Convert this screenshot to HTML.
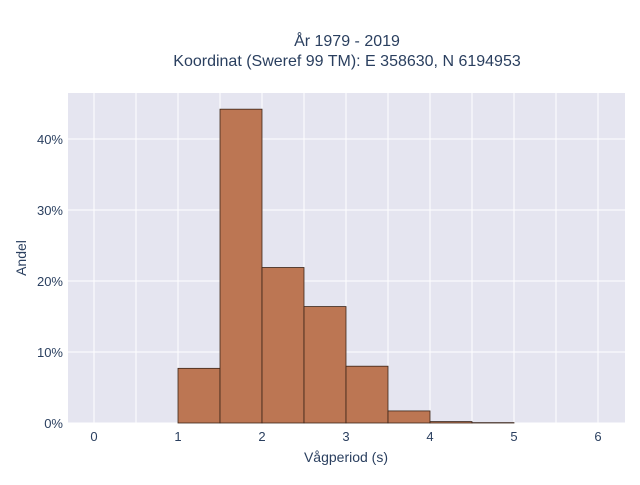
<!DOCTYPE html>
<html><head><meta charset="utf-8"><style>
body{margin:0;background:#fff;font-family:"Liberation Sans",sans-serif}
</style></head><body>
<svg id="c" width="640" height="480" xmlns="http://www.w3.org/2000/svg">
<rect x="0" y="0" width="640" height="480" fill="#fff"/>
<text x="347" y="46" text-anchor="middle" font-size="16" fill="#2a3f5f">År 1979 - 2019</text>
<text x="347" y="66" text-anchor="middle" font-size="16" fill="#2a3f5f">Koordinat (Sweref 99 TM): E 358630, N 6194953</text>
<rect x="68" y="93" width="557" height="330" fill="#e5e5f0"/>
<g id="grid"></g><g id="bars"></g><g id="ticks"></g>
<text x="346" y="462" text-anchor="middle" font-size="14" fill="#2a3f5f">Vågperiod (s)</text>
<text x="0" y="0" transform="translate(26,258) rotate(-90)" text-anchor="middle" font-size="14" fill="#2a3f5f">Andel</text>
</svg>
<script>
const binStarts=[1,1.5,2,2.5,3,3.5,4,4.5];
const binWidth=0.5;
const shares=[7.7,44.2,21.9,16.4,8.0,1.7,0.2,0.05];
const xTicks=[0,1,2,3,4,5,6];
const yTicks=[0,10,20,30,40];
const NS="http://www.w3.org/2000/svg";
const X=v=>94+v*84, Y=v=>423-v*7.1;
function mk(t,a,p){const e=document.createElementNS(NS,t);for(const k in a)e.setAttribute(k,a[k]);p.appendChild(e);return e;}
const g=document.getElementById('grid'),b=document.getElementById('bars'),t=document.getElementById('ticks');
for(let v=0;v<=6;v+=0.5){const l=mk('line',{x1:X(v),x2:X(v),y1:93,y2:423,stroke:'#fff','stroke-width':1},g);

}
yTicks.forEach(v=>{const l=mk('line',{x1:68,x2:625,y1:Y(v),y2:Y(v),stroke:'#fff','stroke-width':1},g);


const s=mk('text',{x:63,y:Y(v)+5,'text-anchor':'end','font-size':13,fill:'#2a3f5f'},t);s.textContent=v+'%';

});
xTicks.forEach(v=>{const s=mk('text',{x:X(v),y:441,'text-anchor':'middle','font-size':13,fill:'#2a3f5f'},t);s.textContent=v;

});
binStarts.forEach((s,i)=>{const r=mk('rect',{x:X(s),y:Y(shares[i]),width:binWidth*84,height:423-Y(shares[i]),fill:'#b9704a','fill-opacity':0.95,stroke:'#3a2418','stroke-width':0.8},b);

});
</script>
</body></html>
